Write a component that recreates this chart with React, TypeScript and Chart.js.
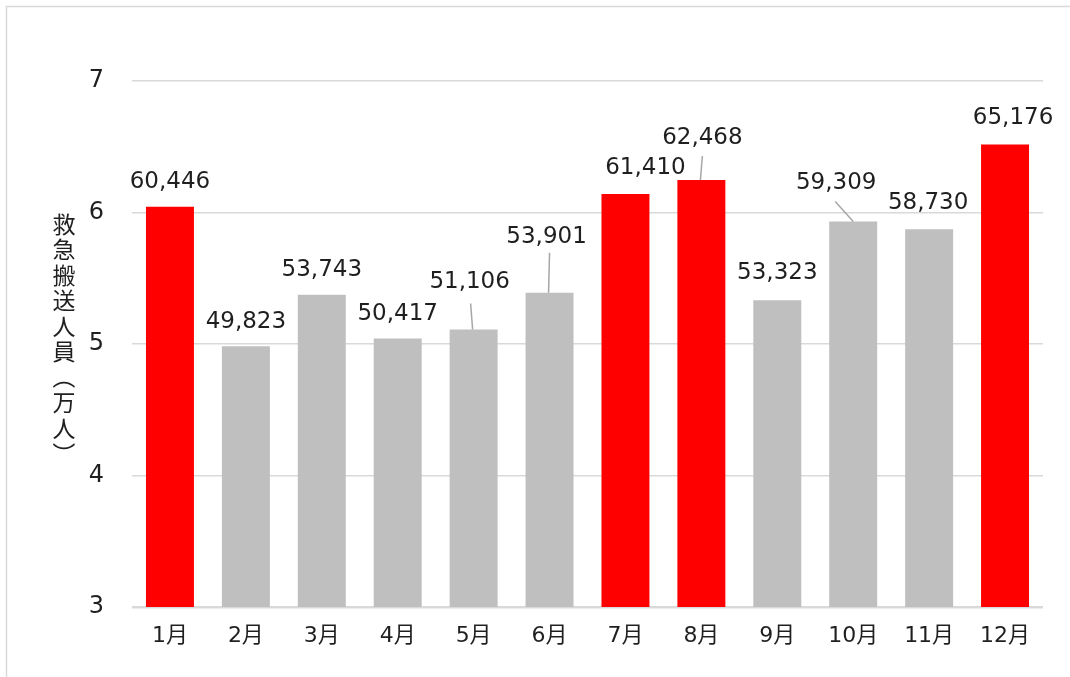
import React, { useEffect, useRef } from "react";
import { Chart, registerables } from "chart.js";

Chart.register(...registerables);

const months = ["1月", "2月", "3月", "4月", "5月", "6月", "7月", "8月", "9月", "10月", "11月", "12月"];
const patients = [60446, 49823, 53743, 50417, 51106, 53901, 61410, 62468, 53323, 59309, 58730, 65176];
const highlighted = [true, false, false, false, false, false, true, true, false, false, false, true];
const yTicks = [3, 4, 5, 6, 7];
const yAxisTitle = "救急搬送人員（万人）";

// label placement (style): offset of label centre from bar top centre
const labelOffsets: [number, number][] = [
  [0, -25], [0, -24], [0, -25], [0, -24], [-4, -47], [-3, -56],
  [20, -26], [1, -42], [0, -27], [-17, -39], [-1, -26], [8, -26],
];
// leader lines: end point offset from bar top centre (null = none)
const leaderEnds: ([number, number] | null)[] = [
  null, null, null, null, [-3, -26], [0, -40], null, [1, -24], null, [-18, -20], null, null,
];

const RED = "#ff0000";
const GRAY = "#bfbfbf";
const TEXT = "#1f1f1f";
const NUM_FONT = "'DejaVu Sans', 'Noto Sans CJK JP', sans-serif";

const fmt = (v: number) => v.toLocaleString("en-US");

const decorPlugin = {
  id: "decor",
  beforeDraw(chart: any) {
    const ctx = chart.ctx;
    ctx.save();
    ctx.strokeStyle = "#d9d9d9";
    ctx.lineWidth = 1.5;
    ctx.strokeRect(6.5, 6.5, chart.width + 10, chart.height + 10);
    ctx.restore();
  },
  afterDraw(chart: any) {
    const ctx = chart.ctx;
    const area = chart.chartArea;
    ctx.save();
    ctx.fillStyle = TEXT;
    ctx.font = "23px 'Noto Sans CJK JP', sans-serif";
    ctx.textAlign = "center";
    ctx.textBaseline = "middle";
    const chars = Array.from(yAxisTitle);
    const pitch = 25.5;
    const cy = (area.top + area.bottom) / 2 - 5;
    const startY = cy - ((chars.length - 1) * pitch) / 2;
    chars.forEach((ch, i) => {
      const x = 64;
      const y = startY + i * pitch;
      if (ch === "（" || ch === "）") {
        ctx.save();
        ctx.translate(x, y);
        ctx.rotate(Math.PI / 2);
        ctx.fillText(ch, 0, 0);
        ctx.restore();
      } else {
        ctx.fillText(ch, x, y);
      }
    });
    ctx.restore();
  },
  afterDatasetsDraw(chart: any) {
    const ctx = chart.ctx;
    const meta = chart.getDatasetMeta(0);
    ctx.save();
    meta.data.forEach((bar: any, i: number) => {
      const bx = bar.x;
      const by = bar.y;
      const le = leaderEnds[i];
      if (le) {
        ctx.strokeStyle = "#a6a6a6";
        ctx.lineWidth = 1.5;
        ctx.beginPath();
        ctx.moveTo(bx - (le[0] < -5 ? 0 : 1), by);
        ctx.lineTo(bx + le[0], by + le[1]);
        ctx.stroke();
      }
      const [dx, dy] = labelOffsets[i];
      ctx.fillStyle = TEXT;
      ctx.font = `23px ${NUM_FONT}`;
      ctx.textAlign = "center";
      ctx.textBaseline = "middle";
      ctx.fillText(fmt(patients[i]), bx + dx, by + dy);
    });
    ctx.restore();
  },
};

export default function App() {
  const ref = useRef<HTMLCanvasElement | null>(null);
  useEffect(() => {
    document.body.style.margin = "0";
    const canvas = ref.current!;
    const chart = new Chart(canvas, {
      type: "bar",
      data: {
        labels: months,
        datasets: [
          {
            data: patients.map((v) => v / 10000),
            backgroundColor: highlighted.map((h) => (h ? RED : GRAY)),
            barPercentage: 0.632,
            categoryPercentage: 1,
          },
        ],
      },
      options: {
        responsive: false,
        animation: false,
        events: [],
        layout: { padding: { left: 0, top: 81, right: 27, bottom: 0 } },
        plugins: { legend: { display: false }, tooltip: { enabled: false } },
        scales: {
          x: {
            grid: { display: false, drawTicks: false },
            border: { display: false },
            ticks: {
              padding: 16,
              color: TEXT,
              font: { family: NUM_FONT, size: 22 },
              maxRotation: 0,
              autoSkip: false,
            },
            afterFit: (s: any) => {
              s.height = 70;
            },
          },
          y: {
            min: yTicks[0],
            max: yTicks[yTicks.length - 1],
            afterBuildTicks: (s: any) => {
              s.ticks = yTicks.map((v) => ({ value: v }));
            },
            grid: {
              drawTicks: false,
              color: "#d9d9d9",
              lineWidth: (c: any) => (c.tick && c.tick.value === 3 ? 2.5 : 1.5),
            },
            border: { display: false },
            ticks: {
              padding: 28,
              color: TEXT,
              font: { family: NUM_FONT, size: 24 },
              callback: (v: any) => String(v),
            },
            afterFit: (s: any) => {
              s.width = 132;
            },
          },
        },
      },
      plugins: [decorPlugin],
    });
    return () => chart.destroy();
  }, []);
  return (
    <div style={{ position: "absolute", left: 0, top: 0, width: 1070, height: 677, background: "#fff" }}>
      <canvas ref={ref} width={1070} height={677} />
    </div>
  );
}
